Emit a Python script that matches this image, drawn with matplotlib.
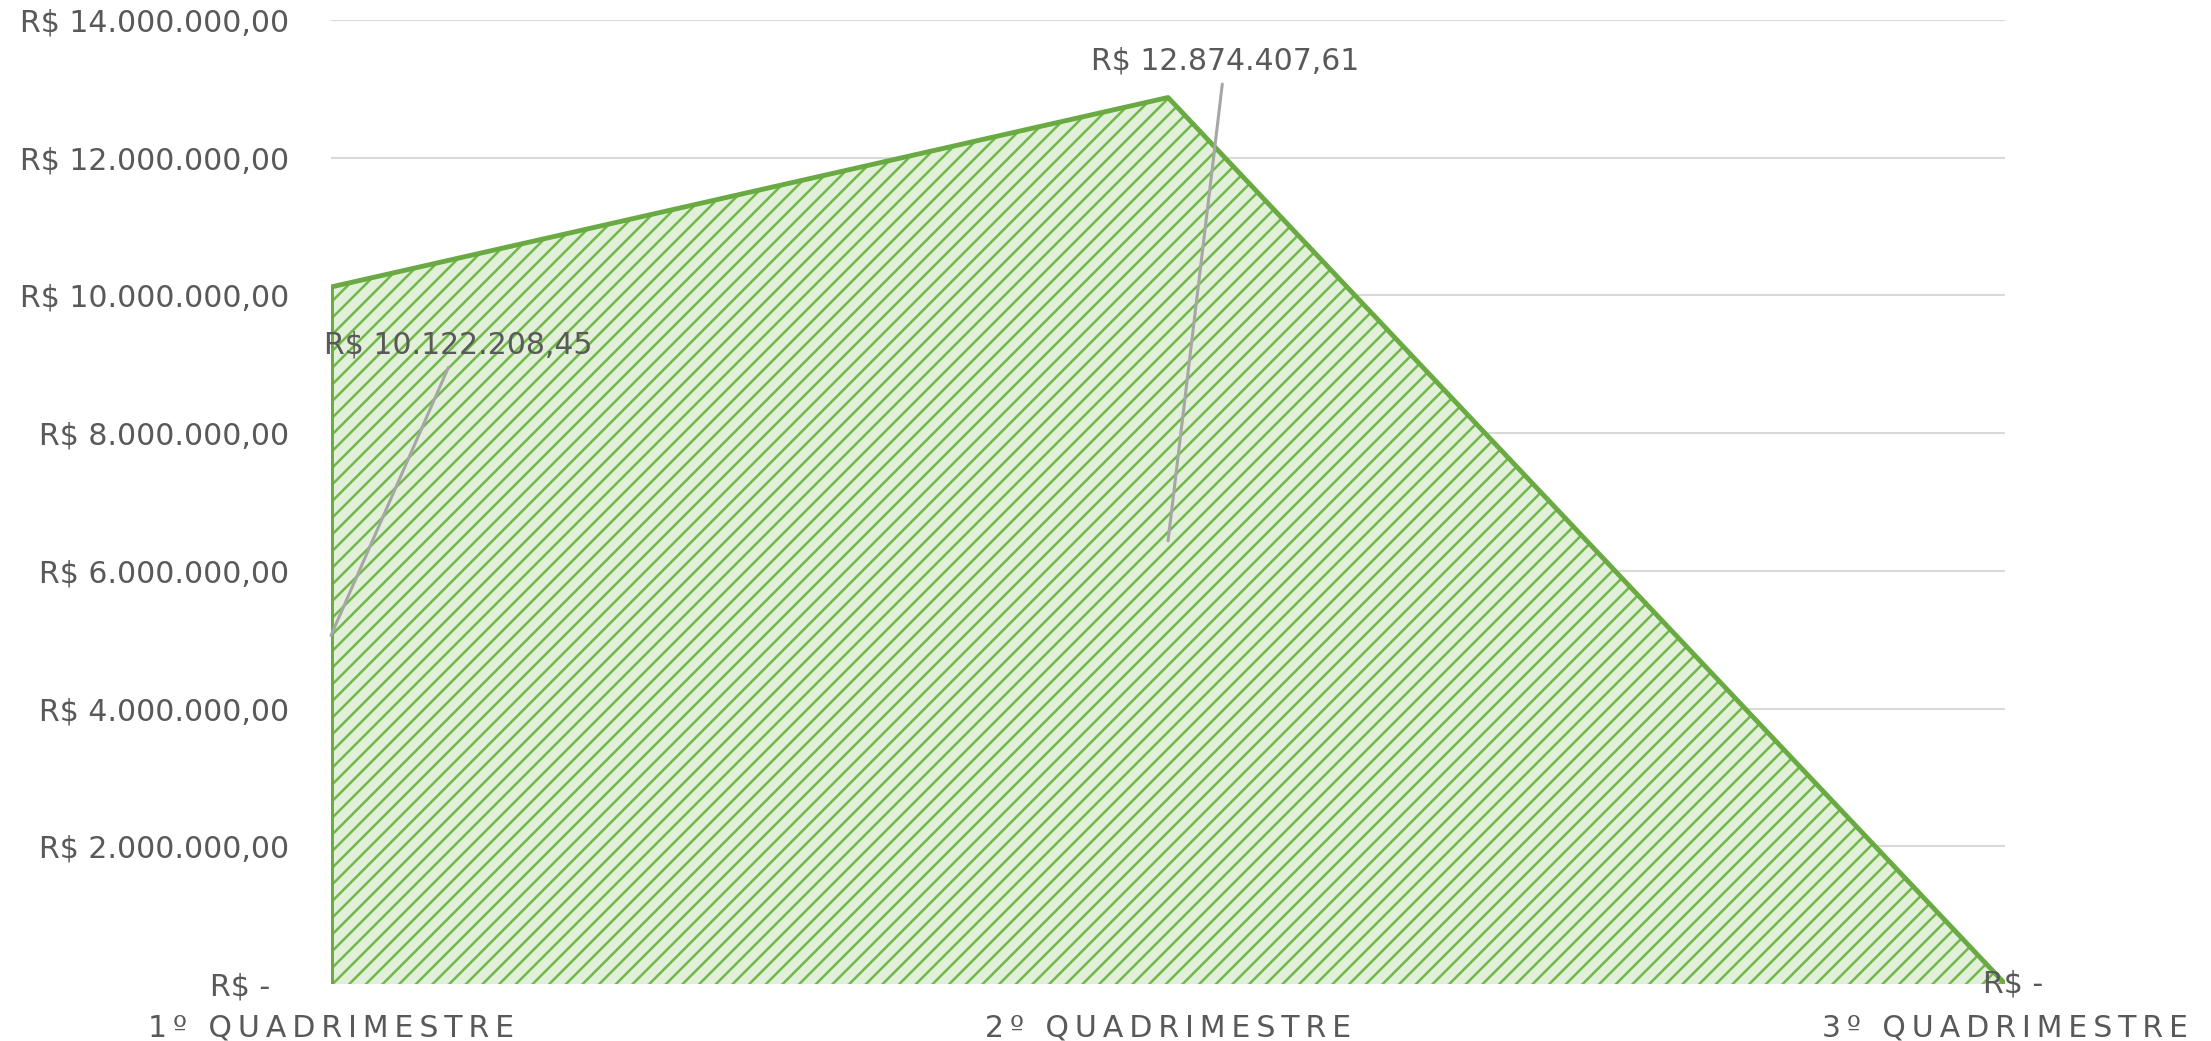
import numpy as np
import matplotlib
matplotlib.use('Agg')
import matplotlib.pyplot as plt
from matplotlib.ticker import FuncFormatter

# Data
categories = ['1º QUADRIMESTRE', '2º QUADRIMESTRE', '3º QUADRIMESTRE']
values = [10122208.45, 12874407.61, 0.0]
y_ticks = [0, 2000000, 4000000, 6000000, 8000000, 10000000, 12000000, 14000000]

TEXT = '#595959'
FS = 21.5
plt.rcParams['font.family'] = ['DejaVu Sans']
plt.rcParams['hatch.linewidth'] = 1.8
plt.rcParams['hatch.color'] = '#70B84B'


def brl(v):
    # Excel accounting style: "R$ 12.000.000,00", zero shown as "R$ -"
    if v == 0:
        return 'R$ -  '
    s = f'{v:,.2f}'
    s = s.replace(',', 'X').replace('.', ',').replace('X', '.')
    return 'R$ ' + s


def spaced(txt):
    return '\u2009'.join(txt)


fig = plt.figure(figsize=(22.11, 10.41), dpi=100)
ax = fig.add_axes([0.1497, 0.0548, 0.9069 - 0.1497, 0.9808 - 0.0548])

x = np.arange(len(categories))
ax.fill_between(x, values, 0, facecolor='#E2F0D9', edgecolor='none', hatch='//', zorder=2)
ax.plot(x, values, color='#6AAA42', lw=3.5, zorder=3)
ax.plot([x[0], x[0]], [0, values[0]], color='#6AAA42', lw=3.5, zorder=3)

ax.set_xlim(x[0], x[-1])
ax.set_ylim(0, 14000000)
ax.set_yticks(y_ticks)
ax.yaxis.set_major_formatter(FuncFormatter(lambda v, p: brl(v)))
ax.grid(axis='y', color='#D9D9D9', lw=1.5, zorder=1)
ax.set_axisbelow(True)
for s in ax.spines.values():
    s.set_visible(False)
ax.tick_params(axis='y', length=0, pad=30, labelsize=FS, labelcolor=TEXT)
ax.set_xticks(x)
ax.set_xticklabels([spaced(c) for c in categories])
ax.tick_params(axis='x', length=0, pad=21, labelsize=FS, labelcolor=TEXT)

# Data labels with leader lines (Excel points them at mid-height of the area)
label_pos = [(0.152, 9280000), (1.068, 13400000)]
for i, (tx, ty) in enumerate(label_pos):
    ax.annotate(brl(values[i]), xy=(x[i], values[i] / 2), xytext=(tx, ty),
                ha='center', va='center', fontsize=FS, color=TEXT,
                arrowprops=dict(arrowstyle='-', color='#A6A6A6', lw=2.2,
                                shrinkA=4, shrinkB=0), zorder=5)
ax.text(x[2] + 0.01, values[2], brl(values[2]).strip(), ha='center', va='center',
        fontsize=FS, color=TEXT, zorder=5)

fig.savefig('out.png', dpi=100)
